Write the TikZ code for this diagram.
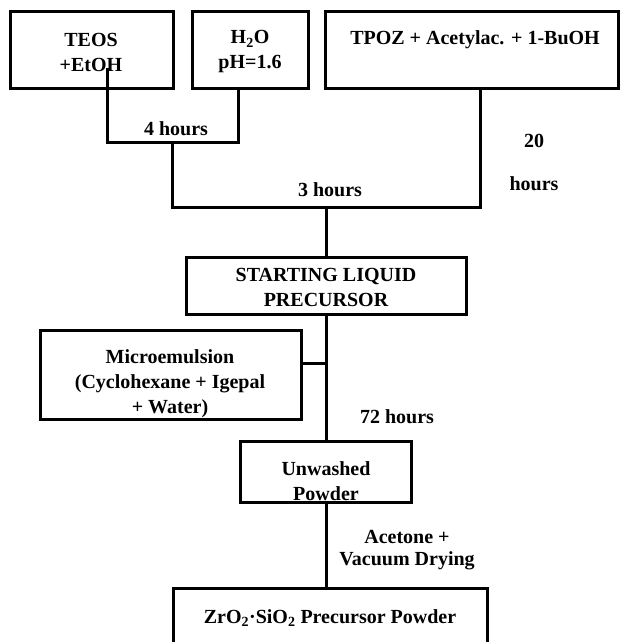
\documentclass[tikz,border=0pt]{standalone}
\usepackage{fontspec}
\setmainfont{Liberation Serif}
\begin{document}
\begin{tikzpicture}[x=1pt,y=-1pt,
  box/.style={draw, line width=3pt, inner sep=0pt},
  txt/.style={font=\fontsize{20}{25}\selectfont\bfseries, align=center, inner sep=0pt},
  wire/.style={line width=3pt}]
\useasboundingbox (0,0) rectangle (620,642);
% boxes
\node[box, minimum width=163pt, minimum height=76pt] (teos) at (91.5,50) {};
\node[box, minimum width=116pt, minimum height=76pt] (h2o) at (250,50) {};
\node[box, minimum width=293pt, minimum height=76pt] (tpoz) at (471.5,50) {};
\node[box, minimum width=280pt, minimum height=57pt] (start) at (326,285.5) {};
\node[box, minimum width=261pt, minimum height=89pt] (micro) at (170.5,374.5) {};
\node[box, minimum width=171pt, minimum height=61pt] (unw) at (326,471.5) {};
\node[box, minimum width=314pt, minimum height=92pt] (final) at (330,634) {};
% texts
\node[txt] (teost) at (91,52) {TEOS\\+EtOH};
\node[txt] (h2ot) at (250,52) {H\textsubscript{2}O\\pH=1.6};
\node[txt] (tpozt) at (475,40) {TPOZ + Acetylac. + 1-BuOH};
\node[txt] (startt) at (326,287) {STARTING LIQUID\\PRECURSOR};
\node[txt] (microt) at (170,384) {Microemulsion\\(Cyclohexane + Igepal\\+ Water)};
\node[txt] (unwt) at (326,481) {Unwashed\\Powder};
\node[txt] (finalt) at (330,618) {ZrO\textsubscript{2}·SiO\textsubscript{2} Precursor Powder};
% labels
\node[txt] (l4) at (176,129) {4 hours};
\node[txt] (l3) at (330,190) {3 hours};
\node[txt] (l20) at (534,162) {20\\[18pt]hours};
\node[txt] (l72) at (397,417) {72 hours};
\node[txt, font=\fontsize{20}{22}\selectfont\bfseries] (lac) at (407,550) {Acetone +\\Vacuum Drying};
% coordinates
\coordinate (teosout) at (107,68);
\coordinate (h2oout) at (238,88);
\coordinate (tpozout) at (480,88);
\coordinate (j1) at (172,142);
\coordinate (j2) at (326,207);
\coordinate (mj) at (326,363);
% connectors
\draw[wire] (teosout) |- (j1) -| (h2oout);
\draw[wire] (j1) |- (j2) -| (tpozout);
\draw[wire] (j2) -- (start.north);
\draw[wire] (start.south) -- (unw.north);
\draw[wire] (micro.east |- mj) -- (mj);
\draw[wire] (unw.south) -- (unw.south |- final.north);
\end{tikzpicture}
\end{document}
